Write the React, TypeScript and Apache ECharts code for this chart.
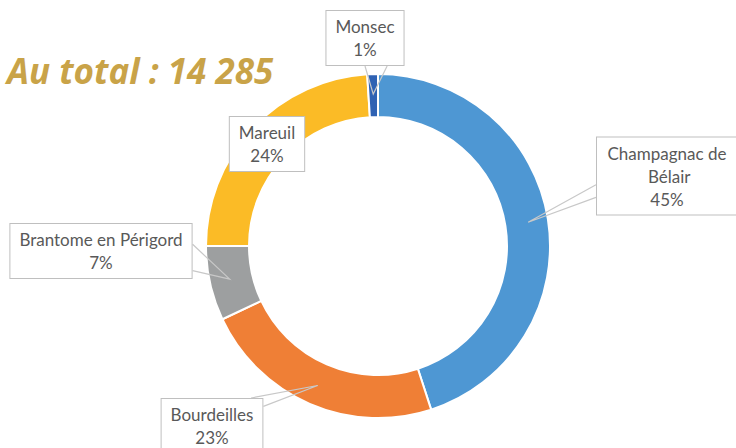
import React, { useEffect, useRef } from 'react';
import * as echarts from 'echarts';

const communes = ['Champagnac de Bélair', 'Bourdeilles', 'Brantome en Périgord', 'Mareuil', 'Monsec'];
const shares = [45, 23, 7, 24, 1];
const sliceColors = ['#4E97D3', '#EF7F36', '#9D9FA0', '#FBBB26', '#2F62B3'];
const totalLabel = 'Au total : 14 285';

// layout (not data)
const CENTER = [378, 246];
const RADII = [129, 172];
const TIP_RADIUS = 152;
const labelCenters = [[667, 176], [212, 426], [101, 251], [267, 144], [365, 38]];
// leader anchor points on label box, as fractions of box width/height
const leaderAnchors: (number[][] | null)[] = [
  [[0, 0.61], [0, 0.77]],
  [[1, 0.15], [0.88, 0]],
  [[1, 0.38], [1, 0.85]],
  null,
  [[0.5, 1], [0.78, 1]],
];

export default function App() {
  const ref = useRef<HTMLDivElement>(null);
  useEffect(() => {
    if (!ref.current) return;
    const chart = echarts.init(ref.current, null, { renderer: 'svg' });
    const total = shares.reduce((a, b) => a + b, 0);
    const tips: number[][] = [];
    let cum = 0;
    shares.forEach((s) => {
      const a = ((cum + s / 2) / total) * 2 * Math.PI;
      tips.push([CENTER[0] + TIP_RADIUS * Math.sin(a), CENTER[1] - TIP_RADIUS * Math.cos(a)]);
      cum += s;
    });
    chart.setOption({
      animation: false,
      title: {
        text: totalLabel,
        left: 7,
        top: 49,
        padding: 0,
        textStyle: {
          fontFamily: 'Open Sans',
          fontSize: 35,
          fontWeight: 'bold',
          fontStyle: 'italic',
          color: '#C9A348',
          lineHeight: 42,
        },
      },
      series: [
        {
          type: 'pie',
          z: 2,
          center: CENTER,
          radius: RADII,
          startAngle: 90,
          clockwise: true,
          silent: true,
          emphasis: { disabled: true },
          itemStyle: { borderColor: '#ffffff', borderWidth: 2 },
          label: { show: false },
          labelLine: { show: false },
          data: communes.map((name, i) => ({
            name,
            value: shares[i],
            itemStyle: { color: sliceColors[i] },
          })),
        },
        {
          type: 'pie',
          z: 5,
          center: CENTER,
          radius: RADII,
          startAngle: 90,
          clockwise: true,
          silent: true,
          avoidLabelOverlap: false,
          percentPrecision: 0,
          emphasis: { disabled: true },
          itemStyle: { color: 'rgba(0,0,0,0)', borderWidth: 0 },
          label: {
            show: true,
            position: 'outside',
            formatter: (p: any) => `${p.name}\n${p.percent}%`,
            fontFamily: 'Lato',
            fontSize: 17,
            lineHeight: 23,
            color: '#595959',
            align: 'center',
            backgroundColor: '#ffffff',
            borderColor: '#BFBFBF',
            borderWidth: 1,
            padding: [4, 9],
          },
          labelLine: {
            show: true,
            length: 10,
            length2: 10,
            lineStyle: { color: '#C8C8C8', width: 1.2 },
          },
          labelLayout: (params: any) => {
            const i = params.dataIndex;
            const [bx, by] = labelCenters[i];
            const w = params.labelRect.width;
            const h = params.labelRect.height;
            const left = bx - w / 2;
            const top = by - h / 2;
            const res: any = { x: bx, y: by, align: 'center', verticalAlign: 'middle' };
            const anc = leaderAnchors[i];
            if (anc) {
              res.labelLinePoints = [
                [left + anc[0][0] * w, top + anc[0][1] * h],
                tips[i],
                [left + anc[1][0] * w, top + anc[1][1] * h],
              ];
            }
            return res;
          },
          data: communes.map((name, i) => ({
            name,
            value: shares[i],
            ...(i === 0 ? { label: { width: 122, overflow: 'break' } } : {}),
            ...(leaderAnchors[i] ? {} : { labelLine: { show: false } }),
          })),
        },
      ],
    });
    return () => chart.dispose();
  }, []);
  return (
    <div
      ref={ref}
      style={{ position: 'absolute', left: 0, top: 0, width: 736, height: 448, background: '#ffffff' }}
    />
  );
}
